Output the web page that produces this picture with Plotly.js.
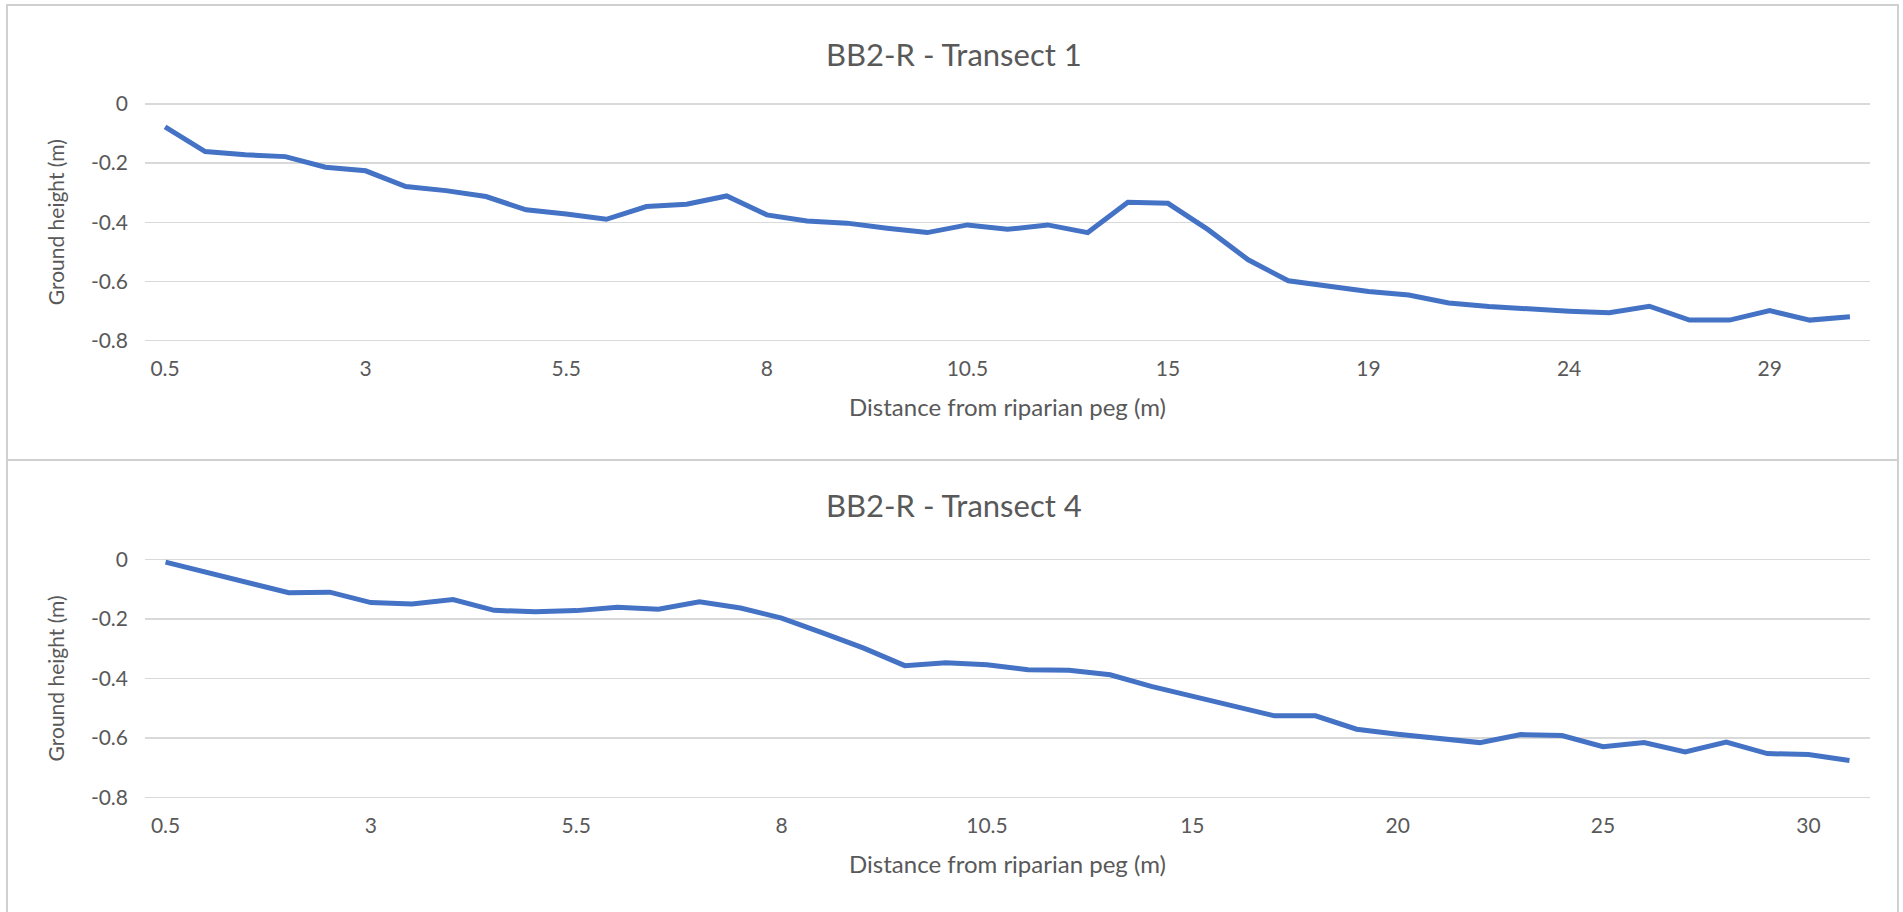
<!DOCTYPE html>
<html>
<head>
<meta charset="utf-8">
<script src="https://cdn.plot.ly/plotly-3.0.1.min.js"></script>
<style>
  html, body { margin: 0; padding: 0; background: #ffffff; }
  #chart { width: 1903px; height: 912px; }
</style>
</head>
<body>
<div id="chart"></div>
<script>
// ---- Data: BB2-R Transect 1 ----
var t1Distance = ['0.5','1','1.5','2','2.5','3','3.5','4','4.5','5','5.5','6','6.5','7','7.5','8','8.5','9','9.5','10','10.5',
                  '11','12','13','14','15','16','17','18','18.5','19','20','21','22','23','24','25','26','27','28','29','30','31'];
var t1Height = [-0.077,-0.161,-0.172,-0.178,-0.214,-0.226,-0.279,-0.293,-0.313,-0.358,-0.372,-0.390,-0.347,-0.339,-0.311,
                -0.375,-0.396,-0.403,-0.420,-0.435,-0.409,-0.424,-0.409,-0.435,-0.332,-0.336,-0.425,-0.527,-0.598,-0.617,
                -0.634,-0.646,-0.673,-0.685,-0.694,-0.701,-0.706,-0.684,-0.731,-0.731,-0.699,-0.731,-0.720];
var t1TickLabels = ['0.5','3','5.5','8','10.5','15','19','24','29'];

// ---- Data: BB2-R Transect 4 ----
var t4Distance = ['0.5','1','1.5','2','2.5','3','3.5','4','4.5','5','5.5','6','6.5','7','7.5','8','8.5','9','9.5','10','10.5',
                  '11','12','13','14','15','16','17','18','19','20','21','22','23','24','25','26','27','28','29','30','31'];
var t4Height = [-0.009,-0.043,-0.077,-0.112,-0.110,-0.145,-0.150,-0.135,-0.171,-0.176,-0.172,-0.161,-0.167,-0.142,-0.163,
                -0.197,-0.247,-0.298,-0.357,-0.347,-0.354,-0.371,-0.373,-0.388,-0.427,-0.461,-0.491,-0.526,-0.526,-0.571,
                -0.588,-0.602,-0.616,-0.589,-0.592,-0.630,-0.616,-0.647,-0.614,-0.653,-0.656,-0.676];
var t4TickLabels = ['0.5','3','5.5','8','10.5','15','20','25','30'];

// ---- Y axis ticks (shared) ----
var yTickVals = [0, -0.2, -0.4, -0.6, -0.8];
var yTickText = ['0', '-0.2', '-0.4', '-0.6', '-0.8'];
var yMin = -0.8, yMax = 0;

var chartTitles = ['BB2-R - Transect 1', 'BB2-R - Transect 4'];
var xTitle = 'Distance from riparian peg (m)';
var yTitle = 'Ground height (m)';

// ---- Styling ----
var W = 1903, H = 912;
var FONT = 'Lato, "Open Sans", sans-serif';
var TXT = '#595959';
var GRID = '#d9d9d9';
var LINE = '#4472C4';
function px(x) { return x / W; }
function py(y) { return 1 - y / H; }

var xDom = [px(145), px(1870)];
var PAD = 0.012; // small range padding so the edge gridlines are drawn

// pixel rows of the 0 and -0.8 gridlines in each panel
function yDomain(topPx, botPx) {
  var perUnit = (botPx - topPx) / (yMax - yMin);
  return [py(botPx + PAD * perUnit), py(topPx - PAD * perUnit)];
}

var traces = [
  { x: t1Distance, y: t1Height, type: 'scatter', mode: 'lines', xaxis: 'x', yaxis: 'y',
    line: { color: LINE, width: 5, shape: 'linear' }, hoverinfo: 'x+y', showlegend: false },
  { x: t4Distance, y: t4Height, type: 'scatter', mode: 'lines', xaxis: 'x2', yaxis: 'y2',
    line: { color: LINE, width: 5, shape: 'linear' }, hoverinfo: 'x+y', showlegend: false }
];

function xAxis(cats, ticks, anchor) {
  return {
    domain: xDom, anchor: anchor, type: 'category',
    categoryorder: 'array', categoryarray: cats,
    range: [-0.5, cats.length - 0.5],
    tickmode: 'array', tickvals: ticks, ticktext: ticks,
    showgrid: false, zeroline: false, showline: false, ticks: '',
    ticklabelstandoff: 10,
    tickfont: { family: FONT, size: 21, color: TXT },
    title: { text: xTitle, font: { family: FONT, size: 24, color: TXT }, standoff: 20 },
    fixedrange: true
  };
}
function yAxis(dom, anchor) {
  return {
    domain: dom, anchor: anchor, range: [yMin - PAD, yMax + PAD],
    tickmode: 'array', tickvals: yTickVals, ticktext: yTickText,
    showgrid: true, gridcolor: GRID, gridwidth: 1.3,
    zeroline: false, showline: false, ticks: '',
    ticklabelstandoff: 16,
    tickfont: { family: FONT, size: 21, color: TXT },
    title: { text: yTitle, font: { family: FONT, size: 21, color: TXT }, standoff: 20 },
    fixedrange: true
  };
}

var layout = {
  width: W, height: H,
  margin: { l: 0, r: 0, t: 0, b: 0 },
  paper_bgcolor: '#ffffff', plot_bgcolor: '#ffffff',
  showlegend: false,
  xaxis: xAxis(t1Distance, t1TickLabels, 'y'),
  yaxis: yAxis(yDomain(104, 340.5), 'x'),
  xaxis2: xAxis(t4Distance, t4TickLabels, 'y2'),
  yaxis2: yAxis(yDomain(559.5, 797.3), 'x2'),
  annotations: [
    { text: chartTitles[0], xref: 'paper', yref: 'paper', x: px(954), y: py(54),
      xanchor: 'center', yanchor: 'middle', showarrow: false,
      font: { family: FONT, size: 31, color: TXT } },
    { text: chartTitles[1], xref: 'paper', yref: 'paper', x: px(954), y: py(505),
      xanchor: 'center', yanchor: 'middle', showarrow: false,
      font: { family: FONT, size: 31, color: TXT } }
  ],
  shapes: [
    { type: 'rect', xref: 'paper', yref: 'paper', x0: px(7), x1: px(1898), y0: py(460), y1: py(5),
      line: { color: '#d0d0d0', width: 2 }, fillcolor: 'rgba(0,0,0,0)', layer: 'below' },
    { type: 'rect', xref: 'paper', yref: 'paper', x0: px(7), x1: px(1898), y0: py(920), y1: py(460),
      line: { color: '#d0d0d0', width: 2 }, fillcolor: 'rgba(0,0,0,0)', layer: 'below' }
  ]
};

Plotly.newPlot('chart', traces, layout, { displayModeBar: false, staticPlot: true });
</script>
</body>
</html>
